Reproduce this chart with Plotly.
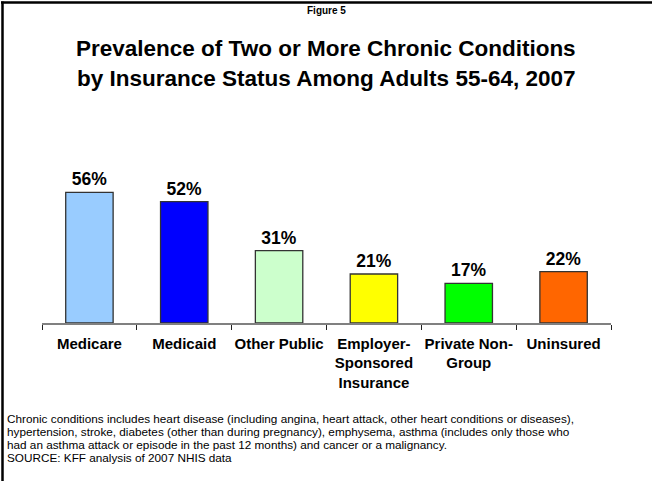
import plotly.graph_objects as go

categories = ["Medicare", "Medicaid", "Other Public",
              "Employer-<br>Sponsored<br>Insurance", "Private Non-<br>Group", "Uninsured"]
values = [56, 52, 31, 21, 17, 22]
bar_colors = ["#99CCFF", "#0000FF", "#CCFFCC", "#FFFF00", "#00FF00", "#FF6600"]
value_labels = [f"{v}%" for v in values]

figure_label = "Figure 5"
title_lines = ["Prevalence of Two or More Chronic Conditions",
               "by Insurance Status Among Adults 55-64, 2007"]
note_lines = [
    "Chronic conditions includes heart disease (including angina, heart attack, other heart conditions or diseases),",
    "hypertension, stroke, diabetes (other than during pregnancy), emphysema, asthma (includes only those who",
    "had an asthma attack or episode in the past 12 months) and cancer or a malignancy.",
    "SOURCE: KFF analysis of 2007 NHIS data",
]

FONT = "Liberation Sans, Arial, sans-serif"
W, H = 652, 481
ML, MR, MT, MB = 42, 41, 183, 158
PW = W - ML - MR
PH = H - MT - MB


def px_x(p):
    return (p - ML) / PW


def px_y(p):
    return (H - MB - p) / PH


fig = go.Figure()
fig.add_trace(go.Bar(
    x=categories, y=values,
    marker=dict(color=bar_colors, line=dict(color="#333333", width=1.3)),
    width=0.5,
    text=value_labels, textposition="outside", cliponaxis=False,
    constraintext="none",
    textfont=dict(family=FONT, size=17.5, color="black", weight="bold"),
    hoverinfo="skip",
))

annotations = []
annotations.append(dict(text=f"<b>{figure_label}</b>", x=0.5, y=px_y(10), xref="paper", yref="paper",
                        xanchor="center", yanchor="middle", showarrow=False,
                        font=dict(family=FONT, size=10, color="black")))
for i, line in enumerate(title_lines):
    annotations.append(dict(text=f"<b>{line}</b>", x=px_x(326), y=px_y(48 + 30 * i),
                            xref="paper", yref="paper", xanchor="center", yanchor="middle",
                            showarrow=False, font=dict(family=FONT, size=22.5, color="black")))
for i, line in enumerate(note_lines):
    annotations.append(dict(text=line, x=px_x(5), y=px_y(418 + 13 * i),
                            xref="paper", yref="paper", xanchor="left", yanchor="middle",
                            showarrow=False, font=dict(family=FONT, size=11.75, color="black")))

shapes = [
    dict(type="line", xref="paper", yref="paper", x0=px_x(1), x1=px_x(W + 2), y0=px_y(2.5), y1=px_y(2.5),
         line=dict(color="black", width=2.5)),
    dict(type="line", xref="paper", yref="paper", x0=px_x(2.5), x1=px_x(2.5), y0=px_y(1.5), y1=px_y(H + 2),
         line=dict(color="black", width=2.5)),
]

fig.update_layout(
    width=W, height=H,
    margin=dict(l=ML, r=MR, t=MT, b=MB, pad=0),
    paper_bgcolor="white", plot_bgcolor="white",
    showlegend=False,
    annotations=annotations,
    shapes=shapes,
    font=dict(family=FONT, color="black"),
    xaxis=dict(
        showline=True, linecolor="#808080", linewidth=1.5,
        ticks="outside", tickson="boundaries", ticklen=5, tickcolor="#222222", tickwidth=1.3,
        tickfont=dict(family=FONT, size=15, color="black", weight="bold"),
        tickangle=0, ticklabelstandoff=6,
        showgrid=False, zeroline=False, fixedrange=True,
    ),
    yaxis=dict(range=[0, 60], visible=False, showgrid=False, zeroline=False, fixedrange=True),
)

fig.write_html("out.html")
